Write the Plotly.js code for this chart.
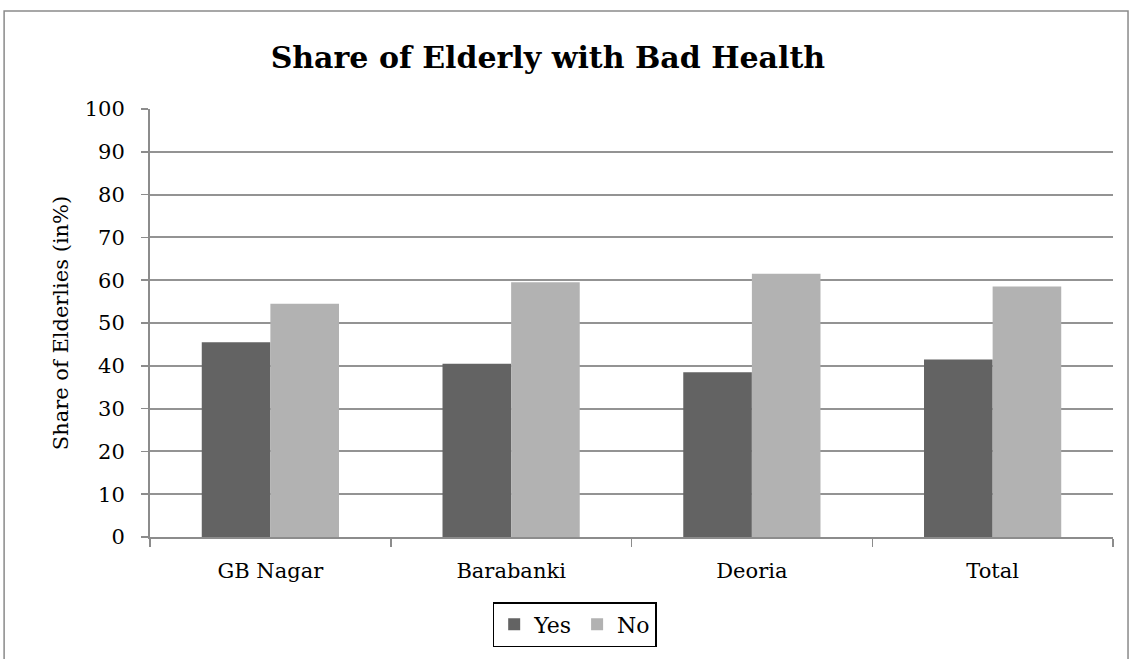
<!DOCTYPE html>
<html>
<head>
<meta charset="utf-8">
<script src="https://cdn.plot.ly/plotly-3.0.1.min.js"></script>
<style>
  html, body { margin: 0; padding: 0; background: #ffffff; }
  #chart { width: 1132px; height: 659px; }
</style>
</head>
<body>
<div id="chart"></div>
<script>
// Share of elderly reporting bad health, by district
const districts = ['GB Nagar', 'Barabanki', 'Deoria', 'Total'];
const yesShare = [45.5, 40.5, 38.5, 41.5];
const noShare = [54.5, 59.5, 61.5, 58.5];
const yTicks = [0, 10, 20, 30, 40, 50, 60, 70, 80, 90, 100];

const serif = 'DejaVu Serif, Liberation Serif, serif';

const traces = [
  {
    type: 'bar', name: 'Yes', x: districts, y: yesShare,
    marker: { color: '#636363' }, hoverinfo: 'x+y+name'
  },
  {
    type: 'bar', name: 'No', x: districts, y: noShare,
    marker: { color: '#b2b2b2' }, hoverinfo: 'x+y+name'
  }
];

const layout = {
  width: 1132, height: 659,
  paper_bgcolor: '#ffffff', plot_bgcolor: '#ffffff',
  margin: { l: 150, r: 19, t: 109, b: 122 },
  barmode: 'group', bargap: 0.43, bargroupgap: 0,
  font: { family: serif, size: 21, color: '#000000' },
  title: {
    text: '<b>Share of Elderly with Bad Health</b>',
    font: { family: serif, size: 30, color: '#000000' },
    x: 0.484, xanchor: 'center', y: 0.912, yanchor: 'middle'
  },
  xaxis: {
    type: 'category',
    showline: true, linecolor: '#8c8c8c', linewidth: 2,
    ticks: 'outside', tickson: 'boundaries', ticklen: 8, tickcolor: '#8c8c8c', tickwidth: 1.5,
    tickfont: { family: serif, size: 21 },
    ticklabelstandoff: 14,
    showgrid: false
  },
  yaxis: {
    range: [0, 100], tickvals: yTicks, ticktext: yTicks.map(String),
    showline: true, linecolor: '#8c8c8c', linewidth: 2,
    ticks: 'outside', ticklen: 7, tickcolor: '#8c8c8c', tickwidth: 1.5,
    tickfont: { family: serif, size: 21 },
    ticklabelstandoff: 12,
    showgrid: true, gridcolor: '#939393', gridwidth: 2,
    zeroline: false,
    title: { text: 'Share of Elderlies (in%)', font: { family: serif, size: 21 }, standoff: 10 }
  },
  legend: {
    orientation: 'h', x: 0.441, xanchor: 'center', y: -0.152, yanchor: 'top',
    bordercolor: '#000000', borderwidth: 1.5,
    font: { family: serif, size: 22 },
    itemwidth: 30, traceorder: 'normal'
  },
  shapes: [
    {
      type: 'rect', xref: 'paper', yref: 'paper',
      x0: -0.1515, x1: 1.0156, y0: -0.295, y1: 1.229,
      line: { color: '#8a8a8a', width: 1.5 }, fillcolor: 'rgba(0,0,0,0)', layer: 'below'
    }
  ],
  showlegend: true
};

Plotly.newPlot('chart', traces, layout, { displayModeBar: false, staticPlot: true });
</script>
</body>
</html>
